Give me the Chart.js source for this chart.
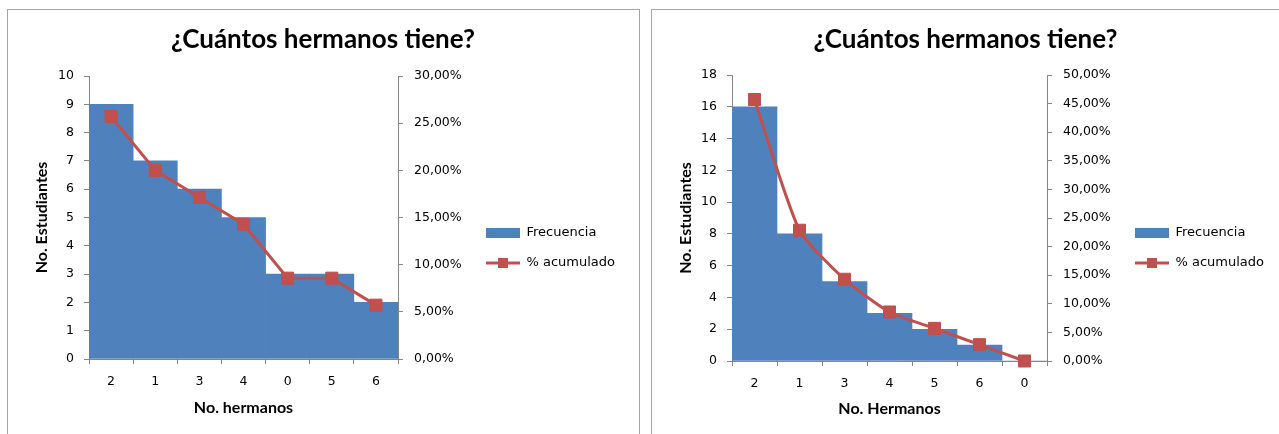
<!DOCTYPE html>
<html lang="es">
<head>
<meta charset="utf-8">
<title>¿Cuántos hermanos tiene?</title>
<script src="https://cdn.jsdelivr.net/npm/chart.js@4.4.1/dist/chart.umd.min.js"></script>
<style>
  html, body { margin: 0; padding: 0; background: #fff; overflow: hidden; }
  .marco { position: absolute; box-sizing: border-box; border: 1px solid #a6a6a6; height: 520px; }
  #marcoA { left: 7px; top: 9px; width: 633px; }
  #marcoB { left: 651px; top: 9px; width: 640px; }
  canvas { position: absolute; }
  #graficoA { left: 8px; top: 10px; }
  #graficoB { left: 652px; top: 10px; }
</style>
</head>
<body>
<div class="marco" id="marcoA"></div>
<div class="marco" id="marcoB"></div>
<canvas id="graficoA" width="630" height="476"></canvas>
<canvas id="graficoB" width="627" height="476"></canvas>
<script>
// Primer grupo de estudiantes
const hermanosA = ['2', '1', '3', '4', '0', '5', '6'];
const frecuenciaA = [9, 7, 6, 5, 3, 3, 2];
const porcentajeA = [25.71, 20.00, 17.14, 14.29, 8.57, 8.57, 5.71];

// Segundo grupo de estudiantes
const hermanosB = ['2', '1', '3', '4', '5', '6', '0'];
const frecuenciaB = [16, 8, 5, 3, 2, 1, 0];
const porcentajeB = [45.71, 22.86, 14.29, 8.57, 5.71, 2.86, 0.00];

const AZUL = '#4F81BD';
const ROJO = '#C0504D';
const EJE = '#868686';
const ALTO = 476;

Chart.defaults.font.family = '"DejaVu Sans", sans-serif';
Chart.defaults.color = '#000';

function formatoPct(v) {
    return v.toFixed(2).replace('.', ',') + '%';
}

// little canvases used as legend symbols (box for bars, line + square for the line)
function iconoLeyenda(tipo) {
    const c = document.createElement('canvas');
    c.width = 34; c.height = 12;
    const g = c.getContext('2d');
    if (tipo === 'bar') {
        g.fillStyle = AZUL;
        g.fillRect(0, 1, 34, 10);
    } else {
        g.fillStyle = ROJO;
        g.fillRect(0, 4.5, 34, 3);
        g.fillRect(12, 1, 10, 10);
    }
    return c;
}

// puts the legend box at a fixed x and width once the layout is done
const leyendaFija = {
    id: 'leyendaFija',
    afterLayout(chart, args, opts) {
        const lg = chart.legend;
        if (!lg || opts.left == null) return;
        lg.left = opts.left;
        lg.width = opts.width;
        lg.right = opts.left + opts.width;
    }
};

function crearGrafico(id, cfg) {
    const ejeGrid = { display: true, drawOnChartArea: false, color: EJE, tickLength: 5 };
    const tituloEje = { family: 'Lato', size: 16, weight: 'bold' };
    const fuenteTicks = { size: 12.5 };

    return new Chart(document.getElementById(id), {
        type: 'bar',
        data: {
            labels: cfg.labels,
            datasets: [
                {
                    type: 'bar', label: 'Frecuencia', data: cfg.frecuencia,
                    backgroundColor: AZUL, borderWidth: 0,
                    barPercentage: 1, categoryPercentage: 1,
                    yAxisID: 'y', order: 2, icono: iconoLeyenda('bar')
                },
                {
                    type: 'line', label: '% acumulado', data: cfg.porcentaje,
                    borderColor: ROJO, backgroundColor: ROJO, borderWidth: 3,
                    tension: cfg.tension, clip: false,
                    pointStyle: 'rect', pointRadius: 8.5, pointBorderWidth: 1,
                    pointBackgroundColor: ROJO, pointBorderColor: ROJO,
                    yAxisID: 'y1', order: 1, icono: iconoLeyenda('line')
                }
            ]
        },
        plugins: [leyendaFija],
        options: {
            responsive: false,
            animation: false,
            layout: { padding: 0 },
            plugins: {
                title: {
                    display: true, text: '¿Cuántos hermanos tiene?', color: '#000',
                    font: { family: 'Lato', size: 26, weight: 'bold' },
                    padding: { top: 14.4, bottom: cfg.area.top - 14.4 - 31.2 }
                },
                legend: {
                    position: 'right', align: 'center',
                    labels: {
                        usePointStyle: true, pointStyleWidth: 34, padding: 17,
                        color: '#000', font: { size: 13 },
                        generateLabels: chart => chart.data.datasets.map((ds, i) => ({
                            text: ds.label, datasetIndex: i, hidden: false,
                            pointStyle: ds.icono, fontColor: '#000',
                            fillStyle: 'transparent', strokeStyle: 'transparent', lineWidth: 0
                        }))
                    }
                },
                leyendaFija: { left: cfg.leyendaX, width: 160 },
                tooltip: { enabled: false }
            },
            scales: {
                x: {
                    grid: { ...ejeGrid, offset: true },
                    border: { color: EJE },
                    ticks: { padding: 10, font: fuenteTicks, color: '#000' },
                    title: {
                        display: true, text: cfg.tituloX, color: '#000', font: tituloEje,
                        padding: { top: 0, bottom: ALTO - cfg.tituloXY - 9.6 }
                    },
                    afterFit: s => { s.height = ALTO - cfg.area.bottom; }
                },
                y: {
                    position: 'left', min: 0, max: cfg.yMax,
                    grid: ejeGrid, border: { color: EJE },
                    ticks: { stepSize: cfg.yPaso, padding: 10, font: fuenteTicks, color: '#000' },
                    title: {
                        display: true, text: 'No. Estudiantes', color: '#000', font: tituloEje,
                        padding: { top: cfg.tituloYX - 9.6, bottom: 0 }
                    },
                    afterFit: s => { s.width = cfg.area.left; }
                },
                y1: {
                    position: 'right', min: 0, max: cfg.pMax,
                    grid: ejeGrid, border: { color: EJE },
                    ticks: { stepSize: 5, padding: 11, font: fuenteTicks, color: '#000', callback: v => formatoPct(v) },
                    afterFit: s => { s.width = s.chart.width - s.chart.legend.width - cfg.area.right; }
                }
            }
        }
    });
}

crearGrafico('graficoA', {
    labels: hermanosA, frecuencia: frecuenciaA, porcentaje: porcentajeA,
    yMax: 10, yPaso: 1, pMax: 30, tension: 0,
    tituloX: 'No. hermanos',
    area: { left: 81, right: 390, top: 66, bottom: 349 },
    tituloXY: 398, tituloYX: 34, leyendaX: 461
});

crearGrafico('graficoB', {
    labels: hermanosB, frecuencia: frecuenciaB, porcentaje: porcentajeB,
    yMax: 18, yPaso: 2, pMax: 50, tension: 0.2,
    tituloX: 'No. Hermanos',
    area: { left: 80, right: 395, top: 65, bottom: 351 },
    tituloXY: 399, tituloYX: 34, leyendaX: 466
});
</script>
</body>
</html>
